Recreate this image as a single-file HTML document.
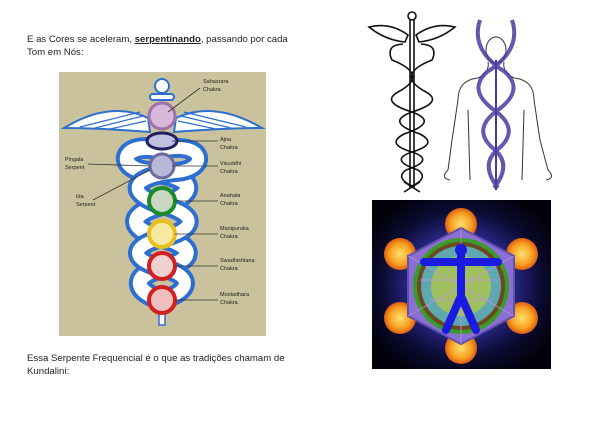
<!DOCTYPE html>
<html><head><meta charset="utf-8"><style>
body{margin:0;background:#fff;width:600px;height:424px;overflow:hidden;position:relative;font-family:"Liberation Sans",sans-serif;}
.t{position:absolute;left:27px;font-size:9.6px;color:#222;line-height:13px;}
svg{position:absolute;left:0;top:0}
</style></head><body>
<div class="t" style="top:33px">E as Cores se aceleram, <b><u>serpentinando</u></b>, passando por cada<br>Tom em Nós:</div>
<div class="t" style="top:352px">Essa Serpente Frequencial é o que as tradições chamam de<br>Kundalini:</div>
<svg width="600" height="424" viewBox="0 0 600 424" font-family="Liberation Sans, sans-serif">
<defs>
<radialGradient id="bg" cx="50%" cy="50%" r="60%"><stop offset="0" stop-color="#9a9ae0"/><stop offset="0.4" stop-color="#3030a0"/><stop offset="0.75" stop-color="#0a0a30"/><stop offset="1" stop-color="#02020a"/></radialGradient>
<radialGradient id="sun" cx="50%" cy="50%" r="55%"><stop offset="0" stop-color="#ffe070"/><stop offset="0.6" stop-color="#f7a020"/><stop offset="1" stop-color="#d84a10"/></radialGradient>
</defs>
<rect x="59" y="72" width="207" height="264" fill="#c9c29c"/>
<path d="M148 118 Q110 100 64 128 Q100 128 150 132Z" fill="#fff" stroke="#2d6fd0" stroke-width="2"/>
<path d="M176 118 Q214 100 262 128 Q226 128 174 132Z" fill="#fff" stroke="#2d6fd0" stroke-width="2"/>
<g stroke="#2d6fd0" stroke-width="1.2"><path d="M80 127 L140 112 M95 128 L143 116 M110 129 L146 121"/><path d="M246 127 L184 112 M231 128 L181 116 M216 129 L178 121"/></g>
<circle cx="162" cy="86" r="7" fill="#fff" stroke="#2d6fd0" stroke-width="2"/>
<rect x="150" y="94" width="24" height="6" rx="3" fill="#fff" stroke="#2d6fd0" stroke-width="2"/>
<path d="M162 150 C120 140 115 170 150 172 C200 178 195 195 162 205 C125 215 130 230 162 238 C195 246 195 260 162 268 C130 276 135 292 162 300" fill="none" stroke="#2d6fd0" stroke-width="22"/>
<path d="M162 150 C120 140 115 170 150 172 C200 178 195 195 162 205 C125 215 130 230 162 238 C195 246 195 260 162 268 C130 276 135 292 162 300" fill="none" stroke="#fff" stroke-width="14"/>
<path d="M162 150 C205 140 210 170 175 172 C125 178 130 195 162 205 C200 215 195 230 162 238 C130 246 130 260 162 268 C195 276 190 292 162 300" fill="none" stroke="#2d6fd0" stroke-width="20"/>
<path d="M162 150 C205 140 210 170 175 172 C125 178 130 195 162 205 C200 215 195 230 162 238 C130 246 130 260 162 268 C195 276 190 292 162 300" fill="none" stroke="#fff" stroke-width="12"/>
<rect x="159" y="300" width="6" height="25" fill="#fff" stroke="#2d6fd0" stroke-width="1.5"/>
<circle cx="162" cy="116" r="13" fill="#d8b8d8" stroke="#a070a8" stroke-width="3"/>
<ellipse cx="162" cy="141" rx="15" ry="8" fill="#c0c0e0" stroke="#202060" stroke-width="3"/>
<circle cx="162" cy="166" r="12" fill="#b8b8d8" stroke="#6a6aa0" stroke-width="3"/>
<circle cx="162" cy="201" r="13" fill="#c8d8c0" stroke="#1a8a2a" stroke-width="4"/>
<circle cx="162" cy="234" r="13" fill="#f8e8a0" stroke="#e8c020" stroke-width="4"/>
<circle cx="162" cy="266" r="13" fill="#f0d0d0" stroke="#d02020" stroke-width="4"/>
<circle cx="162" cy="300" r="13" fill="#f0c0c0" stroke="#d02020" stroke-width="4"/>
<g stroke="#333" stroke-width="0.8" fill="none">
<path d="M168 112 L200 88"/><path d="M172 141 L218 141"/><path d="M172 166 L218 166"/><path d="M175 201 L218 201"/><path d="M175 234 L218 234"/><path d="M175 266 L218 266"/><path d="M175 300 L218 300"/>
<path d="M88 164 L150 166"/><path d="M93 200 L150 170"/></g>
<g font-size="5.5" fill="#222">
<text x="203" y="83">Sahasrara</text><text x="203" y="91">Chakra</text>
<text x="220" y="141">Ajna</text><text x="220" y="149">Chakra</text>
<text x="220" y="165">Visuddhi</text><text x="220" y="173">Chakra</text>
<text x="220" y="197">Anahata</text><text x="220" y="205">Chakra</text>
<text x="220" y="230">Manipuraka</text><text x="220" y="238">Chakra</text>
<text x="220" y="262">Swadhishtana</text><text x="220" y="270">Chakra</text>
<text x="220" y="296">Mooladhara</text><text x="220" y="304">Chakra</text>
<text x="65" y="161">Pingala</text><text x="65" y="169">Serpent</text>
<text x="76" y="198">Ida</text><text x="76" y="206">Serpent</text>
</g>
<g fill="none" stroke="#111" stroke-width="1.6">
<circle cx="412" cy="16" r="4"/>
<path d="M410 20 L410 188 M414 20 L414 188"/>
<path d="M408 35 Q390 22 369 27 Q385 40 405 42Z M416 35 Q434 22 455 27 Q439 40 419 42Z"/>
<path d="M403 44 Q385 45 392 60 Q430 75 398 92 Q380 102 412 112 Q440 122 404 134 Q385 144 412 152 Q436 160 406 170 Q395 178 412 186"/>
<path d="M421 44 Q439 45 432 60 Q394 75 426 92 Q444 102 412 112 Q384 122 420 134 Q439 144 412 152 Q388 160 418 170 Q429 178 412 186"/>
<path d="M404 192 L420 182 M420 192 L404 182"/>
</g>
<g fill="none" stroke="#333" stroke-width="1">
<ellipse cx="496" cy="50" rx="10" ry="13"/>
<path d="M488 62 Q490 72 478 78 Q458 80 458 100 L452 140 L448 170 M504 62 Q502 72 514 78 Q534 80 534 100 L540 140 L548 170 M468 110 L470 180 M524 110 L522 180"/>
<path d="M448 170 Q440 178 450 180 M548 170 Q556 178 546 180"/>
</g>
<g fill="none" stroke="#4a3aa0" stroke-width="4" opacity="0.85">
<path d="M480 20 Q470 50 505 72 Q525 90 498 110 Q470 130 495 150 Q512 165 494 188"/>
<path d="M512 20 Q522 50 487 72 Q467 90 494 110 Q522 130 497 150 Q480 165 498 188"/>
</g>
<path d="M496 60 L496 190" stroke="#4a3aa0" stroke-width="2"/>
<rect x="372" y="200" width="179" height="169" fill="url(#bg)"/>
<g fill="url(#sun)">
<circle cx="461" cy="224" r="16"/><circle cx="461" cy="348" r="16"/>
<circle cx="400" cy="254" r="16"/><circle cx="522" cy="254" r="16"/>
<circle cx="400" cy="318" r="16"/><circle cx="522" cy="318" r="16"/>
</g>
<polygon points="461,228 514,256 514,316 461,344 408,316 408,256" fill="#8a70d0" stroke="#6050b0" stroke-width="2"/>
<circle cx="461" cy="286" r="46" fill="#6a4a20" stroke="#3a9a2a" stroke-width="4"/>
<circle cx="461" cy="286" r="40" fill="#60a8b0"/>
<circle cx="461" cy="286" r="30" fill="#a0c060"/>
<g stroke="#c090e0" stroke-width="1" fill="none" opacity="0.8">
<path d="M408 256 L514 316 M514 256 L408 316 M461 228 L461 344 M420 280 L500 280 M430 300 L492 300"/></g>
<g stroke="#1a1ae0" stroke-width="8" stroke-linecap="round" fill="none">
<path d="M461 252 L461 300"/><path d="M424 262 L498 262"/><path d="M461 296 L446 330 M461 296 L476 330"/></g>
<circle cx="461" cy="250" r="6" fill="#1a1ae0"/>
</svg>
</body></html>
